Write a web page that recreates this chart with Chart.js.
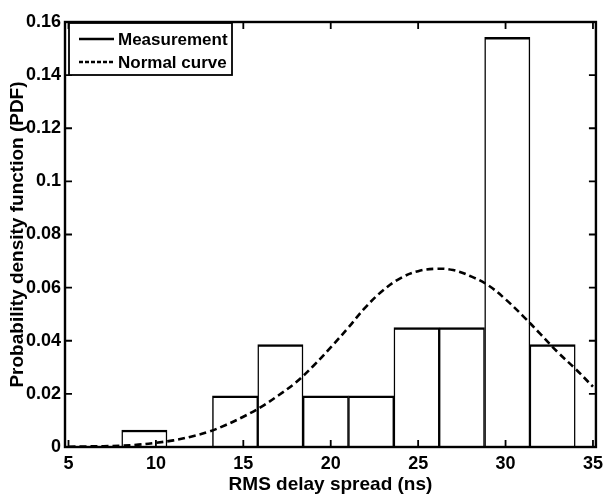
<!DOCTYPE html>
<html>
<head>
<meta charset="utf-8">
<script src="https://cdn.jsdelivr.net/npm/chart.js@4.4.1/dist/chart.umd.min.js"></script>
<style>
  html, body { margin: 0; padding: 0; background: #fff; }
  #wrap { width: 609px; height: 494px; position: relative; }
</style>
</head>
<body>
<div id="wrap"><canvas id="grafico" width="609" height="494"></canvas></div>
<script>
// Datos
const xTicks = [5, 10, 15, 20, 25, 30, 35];
const yTicks = [0, 0.02, 0.04, 0.06, 0.08, 0.1, 0.12, 0.14, 0.16];

// Histograma (centros de clase y densidad)
const binCenters = [9.34, 11.93, 14.53, 17.12, 19.72, 22.31, 24.91, 27.50, 30.10, 32.69];
const pdfValues = [0.0064, 0, 0.0193, 0.0386, 0.0193, 0.0193, 0.0450, 0.0450, 0.1542, 0.0386];

// Curva normal (puntos leídos)
const curveX = [5, 6, 7, 8, 9, 10, 11, 12, 13, 14, 15, 16, 17, 18, 19, 20,
                21, 22, 23, 24, 25, 26, 27, 28, 29, 30, 31, 32, 33, 34, 35];
const curveY = [0.0001, 0.0002, 0.0003, 0.0005, 0.0009, 0.0016, 0.0025, 0.0039,
                0.0057, 0.0083, 0.0114, 0.0150, 0.0194, 0.0243, 0.0305, 0.0375,
                0.0449, 0.0527, 0.0590, 0.0636, 0.0662, 0.0671, 0.0666, 0.0643,
                0.0609, 0.0556, 0.0493, 0.0425, 0.0356, 0.0294, 0.0227];

const fuente = "'Liberation Sans', Arial, sans-serif";

// Marco, marcas interiores y leyenda al estilo MATLAB
const marcoPlugin = {
    id: 'marco',
    afterDraw(chart) {
        const ctx = chart.ctx;
        const a = chart.chartArea;
        const sx = chart.scales.x, sy = chart.scales.y;
        ctx.save();
        ctx.strokeStyle = '#000';
        ctx.lineWidth = 1.8;
        ctx.beginPath();
        xTicks.forEach(v => {
            const px = sx.getPixelForValue(v);
            ctx.moveTo(px, a.bottom); ctx.lineTo(px, a.bottom - 7);
            ctx.moveTo(px, a.top); ctx.lineTo(px, a.top + 7);
        });
        yTicks.forEach(v => {
            const py = sy.getPixelForValue(v);
            ctx.moveTo(a.left, py); ctx.lineTo(a.left + 7, py);
            ctx.moveTo(a.right, py); ctx.lineTo(a.right - 7, py);
        });
        ctx.stroke();
        ctx.lineWidth = 2.4;
        ctx.strokeRect(a.left, a.top, a.right - a.left, a.bottom - a.top);

        // leyenda
        const lx = a.left + 4, ly = a.top + 1, lw = 163, lh = 52;
        ctx.fillStyle = '#fff';
        ctx.fillRect(lx, ly, lw, lh);
        ctx.lineWidth = 1.8;
        ctx.strokeRect(lx, ly, lw, lh);
        ctx.font = 'bold 17px ' + fuente;
        ctx.textBaseline = 'middle';
        ctx.fillStyle = '#000';
        chart.data.datasets.slice().reverse().forEach((ds, i) => {
            const yy = ly + 16 + i * 23;
            ctx.lineWidth = 2.5;
            ctx.setLineDash(ds.type === 'line' ? [4, 2] : []);
            ctx.beginPath();
            ctx.moveTo(lx + 10, yy); ctx.lineTo(lx + 45, yy);
            ctx.stroke();
            ctx.setLineDash([]);
            ctx.fillText(ds.label, lx + 49, yy + 1);
        });
        ctx.restore();
    }
};

new Chart(document.getElementById('grafico').getContext('2d'), {
    type: 'bar',
    data: {
        datasets: [{
            type: 'line',
            label: 'Normal curve',
            data: curveX.map((x, i) => ({ x: x, y: curveY[i] })),
            borderColor: '#000',
            borderWidth: 2.6,
            borderDash: [7, 4],
            pointRadius: 0,
            tension: 0.4,
            fill: false,
            order: 0
        }, {
            type: 'bar',
            label: 'Measurement',
            data: binCenters.map((x, i) => ({ x: x, y: pdfValues[i] })),
            backgroundColor: '#fff',
            borderColor: '#000',
            borderWidth: { top: 2.5, left: 1.5, right: 1.5, bottom: 0 },
            borderSkipped: false,
            barPercentage: 1,
            categoryPercentage: 1,
            order: 1
        }]
    },
    options: {
        responsive: false,
        animation: false,
        devicePixelRatio: 1,
        layout: { padding: { top: 22, right: 5, left: 0, bottom: 0 } },
        plugins: { legend: { display: false }, tooltip: { enabled: false } },
        scales: {
            x: {
                type: 'linear',
                min: 4.8,
                max: 35.17,
                offset: false,
                grid: { display: false, drawTicks: false },
                border: { display: false },
                afterBuildTicks: s => { s.ticks = xTicks.map(v => ({ value: v })); },
                afterFit: s => { s.height = 47; },
                ticks: {
                    color: '#000',
                    padding: 6,
                    maxRotation: 0,
                    font: { family: fuente, size: 18, weight: 'bold' }
                },
                title: {
                    display: true,
                    text: 'RMS delay spread (ns)',
                    color: '#000',
                    padding: { top: 0, bottom: 0 },
                    font: { family: fuente, size: 19, weight: 'bold', lineHeight: 1.0 }
                }
            },
            y: {
                min: 0,
                max: 0.16,
                grid: { display: false, drawTicks: false },
                border: { display: false },
                afterBuildTicks: s => { s.ticks = yTicks.map(v => ({ value: v })); },
                afterFit: s => { s.width = 65; },
                ticks: {
                    color: '#000',
                    padding: 4,
                    font: { family: fuente, size: 18, weight: 'bold' },
                    callback: v => String(+v.toFixed(2))
                },
                title: {
                    display: true,
                    text: 'Probability density function (PDF)',
                    color: '#000',
                    padding: { top: 8, bottom: 0 },
                    font: { family: fuente, size: 19, weight: 'bold', lineHeight: 1.0 }
                }
            }
        }
    },
    plugins: [marcoPlugin]
});
</script>
</body>
</html>
